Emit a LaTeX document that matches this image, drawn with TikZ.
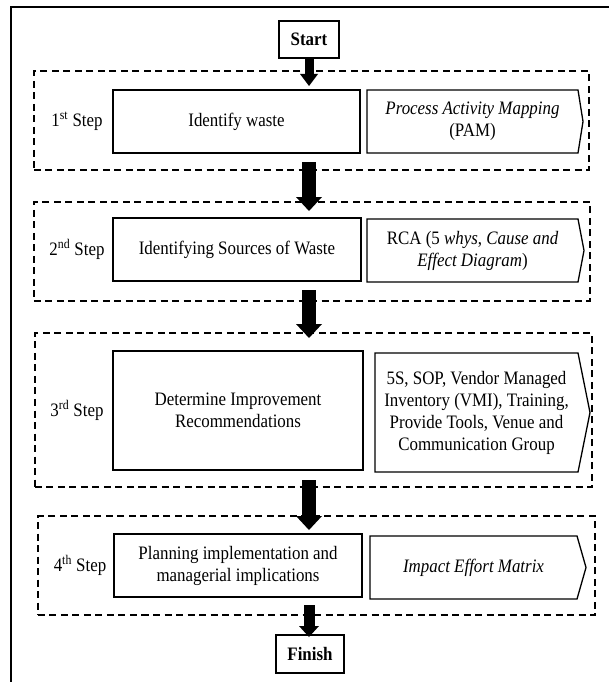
\documentclass[tikz,border=0pt]{standalone}
\usepackage{fontspec}
\setmainfont{Liberation Serif}[FakeStretch=0.89]
\usetikzlibrary{arrows.meta}
\begin{document}
\begin{tikzpicture}[x=1bp,y=-1bp,
  every node/.style={font=\fontsize{19bp}{22bp}\selectfont, inner sep=0pt, outer sep=0pt, align=center},
  solidbox/.style={draw, line width=1.3bp},
  dashbox/.style={draw, line width=1.4bp, dash pattern=on 7bp off 4.5bp},
  chevtext/.style={draw=none},
  chevline/.style={draw, line width=1.3bp, line join=miter},
  frameline/.style={draw, line width=1.3bp},
  bigarrow/.style={line width=14bp, -{Triangle[width=26bp,length=14bp,line width=0pt]}},
  smallarrow/.style={line width=9bp, -{Triangle[width=18bp,length=12bp,line width=0pt]}},
  midarrow/.style={line width=11bp, -{Triangle[width=20bp,length=11bp,line width=0pt]}}
]
\path[use as bounding box] (0,0) rectangle (609,682);
\draw[frameline] (609,7) -- (11,7) -- (11,682);

% dashed step frames
\node[dashbox, minimum width=555bp, minimum height=99bp] (d1) at (311.5,120.5) {};
\node[dashbox, minimum width=556bp, minimum height=99bp] (d2) at (312,251.5) {};
\node[dashbox, minimum width=557bp, minimum height=154bp] (d3) at (313.5,410) {};
\node[dashbox, minimum width=557bp, minimum height=99bp] (d4) at (316.5,565.5) {};

% start / finish
\node[solidbox, minimum width=60bp, minimum height=37bp, font=\fontsize{19bp}{22bp}\selectfont\bfseries] (start) at (309,39.5) {Start};
\node[solidbox, minimum width=68bp, minimum height=38bp, font=\fontsize{19bp}{22bp}\selectfont\bfseries] (finish) at (310,654) {Finish};

% step labels
\node (s1) at (77,121.5) {1\textsuperscript{st} Step};
\node (s2) at (77,249.5) {2\textsuperscript{nd} Step};
\node (s3) at (77,410.5) {3\textsuperscript{rd} Step};
\node (s4) at (80,565.5) {4\textsuperscript{th} Step};

% main boxes
\node[solidbox, minimum width=247bp, minimum height=63bp] (b1) at (236.5,121.5) {Identify waste};
\node[solidbox, minimum width=248bp, minimum height=63bp] (b2) at (237,249.5) {Identifying Sources of Waste};
\node[solidbox, minimum width=250bp, minimum height=119bp] (b3) at (238,410.5) {Determine Improvement\\Recommendations};
\node[solidbox, minimum width=248bp, minimum height=63bp] (b4) at (238,565.5) {Planning implementation and\\managerial implications};

% chevron boxes
\node[chevtext, minimum width=211bp, minimum height=63bp] (c1) at (472.5,121.5) {\textit{Process Activity Mapping}\\(PAM)};
\draw[chevline] (c1.north west) -- (c1.north east) -- ([xshift=5bp]c1.east) -- (c1.south east) -- (c1.south west) -- cycle;
\node[chevtext, minimum width=211bp, minimum height=63bp] (c2) at (472.5,250.5) {RCA (5 \textit{whys}, \textit{Cause and}\\\textit{Effect Diagram})};
\draw[chevline] (c2.north west) -- (c2.north east) -- ([xshift=6bp]c2.east) -- (c2.south east) -- (c2.south west) -- cycle;
\node[chevtext, minimum width=203bp, minimum height=119bp] (c3) at (476.5,412.5) {5S, SOP, Vendor Managed\\Inventory (VMI), Training,\\Provide Tools, Venue and\\Communication Group};
\draw[chevline] (c3.north west) -- (c3.north east) -- ([xshift=12bp]c3.east) -- (c3.south east) -- (c3.south west) -- cycle;
\node[chevtext, minimum width=207bp, minimum height=63bp] (c4) at (473.5,567.5) {\textit{Impact Effort Matrix}};
\draw[chevline] (c4.north west) -- (c4.north east) -- ([xshift=9bp]c4.east) -- (c4.south east) -- (c4.south west) -- cycle;

% arrows
\draw[smallarrow, shorten >=4bp] (start.south) -- (b1.north -| start.south);
\draw[bigarrow, shorten <=9bp, shorten >=7bp] (b1.south -| start.south) -- (b2.north -| start.south);
\draw[bigarrow, shorten <=9bp, shorten >=13bp] (b2.south -| start.south) -- (b3.north -| start.south);
\draw[bigarrow, shorten <=10bp, shorten >=4bp] (b3.south -| start.south) -- (b4.north -| start.south);
\draw[midarrow, shorten <=8bp, shorten >=-2bp] (b4.south -| start.south) -- (finish.north -| start.south);
\end{tikzpicture}
\end{document}
